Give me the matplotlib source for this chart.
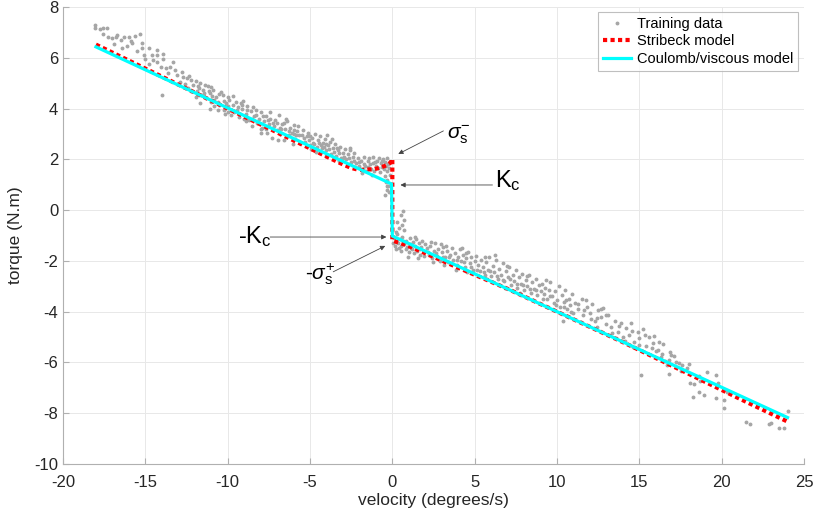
import matplotlib
matplotlib.use("Agg")
import matplotlib.pyplot as plt

plt.rcParams['font.family'] = ['Liberation Sans', 'DejaVu Sans']
plt.rcParams['mathtext.fontset'] = 'custom'
plt.rcParams['mathtext.rm'] = 'Liberation Sans'
plt.rcParams['mathtext.it'] = 'Liberation Sans:italic'
plt.rcParams['axes.unicode_minus'] = False

# ---- Training data (velocity, torque) ----
train_pts = [
    # left branch, x -18 .. -15
    (-18.05, 7.29), (-18.05, 7.19), (-17.75, 7.13), (-17.55, 7.16), (-17.3, 7.16), (-17.25, 6.83),
    (-17.05, 6.77), (-16.8, 6.80), (-16.7, 6.90), (-16.5, 6.70), (-16.3, 6.80), (-16.0, 6.80),
    (-15.9, 6.68), (-16.4, 6.37), (-15.8, 6.57), (-15.6, 6.87), (-15.35, 6.92), (-15.2, 6.57),
    (-15.2, 6.37), (-15.5, 6.27), (-17.6, 6.95), (-16.9, 6.55), (-16.1, 6.45), (-15.1, 6.10),
    # x -15 .. -12
    (-14.75, 6.40), (-15.0, 5.97), (-14.6, 6.10), (-14.55, 5.90), (-14.3, 6.30), (-14.3, 6.10),
    (-14.3, 5.85), (-13.95, 6.15), (-14.05, 5.65), (-13.75, 5.58), (-13.5, 5.65), (-13.35, 5.85),
    (-13.2, 5.50), (-14.0, 4.54), (-13.1, 5.33), (-12.7, 5.26), (-12.5, 5.20), (-12.35, 5.27),
    (-12.2, 5.13), (-12.1, 4.93), (-11.95, 5.07), (-13.6, 5.40), (-12.9, 5.05), (-12.6, 4.95),
    (-12.4, 4.80), (-12.8, 5.45), (-13.9, 5.95), (-14.8, 5.75), (-12.25, 4.70),
    # x -12 .. -9
    (-11.8, 4.87), (-11.7, 5.00), (-11.4, 4.93), (-11.2, 4.87), (-11.6, 4.54), (-11.67, 4.20),
    (-11.1, 4.60), (-10.9, 4.74), (-10.7, 4.47), (-10.6, 4.27), (-10.4, 4.67), (-10.3, 4.54),
    (-10.1, 4.20), (-9.9, 4.33), (-9.7, 4.14), (-9.5, 4.27), (-9.2, 4.20), (-9.1, 4.00),
    (-8.9, 3.80), (-9.8, 3.74), (-11.1, 4.00), (-10.6, 3.94), (-11.9, 4.45), (-11.5, 4.75),
    (-11.3, 4.40), (-11.0, 4.25), (-10.8, 4.10), (-10.5, 4.15), (-10.2, 3.95), (-10.0, 4.45),
    (-9.6, 3.85), (-9.4, 4.05), (-9.3, 3.65), (-11.85, 4.70), (-10.95, 4.50), (-10.15, 3.80),
    (-9.65, 4.50), (-9.05, 4.30),
    (-11.75, 4.80), (-11.45, 4.62), (-11.15, 4.70), (-10.85, 4.35), (-10.55, 4.58), (-10.25, 4.30),
    (-9.95, 4.12), (-9.45, 3.95), (-9.15, 4.15), (-11.0, 4.85), (-10.0, 3.85), (-9.0, 3.60),
    # x -9 .. -5
    (-8.8, 4.10), (-8.7, 3.55), (-8.6, 3.90), (-8.5, 3.30), (-8.4, 3.70), (-8.3, 3.95),
    (-8.2, 3.45), (-8.1, 3.60), (-8.0, 3.85), (-7.9, 3.25), (-7.8, 3.50), (-7.7, 3.70),
    (-7.6, 3.05), (-7.5, 3.40), (-7.4, 3.60), (-7.3, 2.85), (-7.2, 3.30), (-7.1, 3.55),
    (-7.0, 3.15), (-6.9, 3.75), (-6.8, 3.00), (-6.7, 3.40), (-6.6, 2.75), (-6.5, 3.20),
    (-6.4, 3.50), (-6.3, 2.95), (-6.2, 3.25), (-6.1, 3.05), (-6.0, 3.35), (-5.9, 2.80),
    (-5.8, 3.10), (-5.7, 3.30), (-5.6, 2.65), (-5.5, 2.95), (-5.4, 3.15), (-5.3, 2.70),
    (-5.2, 2.90), (-5.1, 3.05), (-5.0, 2.55), (-8.9, 3.50), (-7.95, 3.05), (-6.95, 2.75),
    (-6.05, 2.60), (-8.45, 4.05), (-7.45, 3.85), (-6.45, 3.60),
    (-8.85, 3.95), (-8.55, 3.58), (-8.25, 3.75), (-7.85, 3.70), (-7.55, 3.55), (-7.25, 3.45),
    (-6.85, 3.25), (-6.55, 3.45), (-6.25, 3.10), (-5.95, 3.15), (-5.65, 2.95), (-5.35, 2.85),
    (-5.05, 2.75), (-8.0, 3.20), (-7.0, 3.45), (-6.0, 3.00), (-7.65, 3.20), (-6.75, 3.20),
    (-5.85, 2.95),
    # x -5 .. -2
    (-4.9, 2.85), (-4.8, 2.65), (-4.7, 3.00), (-4.6, 2.50), (-4.5, 2.75), (-4.4, 2.90),
    (-4.3, 2.45), (-4.2, 2.65), (-4.1, 2.80), (-4.0, 2.35), (-3.9, 2.55), (-3.8, 2.70),
    (-3.7, 2.20), (-3.6, 2.45), (-3.5, 2.60), (-3.4, 2.15), (-3.3, 2.35), (-3.2, 2.50),
    (-3.1, 2.05), (-3.0, 2.25), (-2.9, 2.40), (-2.8, 2.00), (-2.7, 2.20), (-2.6, 2.35),
    (-2.5, 1.90), (-2.4, 2.10), (-2.3, 2.25), (-2.2, 1.85), (-2.1, 2.05), (-4.65, 2.30),
    (-3.95, 2.95), (-3.25, 1.95), (-2.55, 2.45), (-4.35, 2.55), (-3.65, 2.80),
    (-4.75, 2.60), (-4.45, 2.65), (-4.15, 2.50), (-3.85, 2.40), (-3.55, 2.30), (-3.25, 2.25),
    (-2.95, 2.10), (-2.65, 2.05), (-2.35, 1.95), (-2.05, 1.90), (-5.0, 2.90), (-4.0, 2.60),
    (-3.0, 2.05), (-4.95, 2.40), (-4.05, 2.15), (-3.35, 2.45), (-2.25, 1.70),
    # x -2 .. 0
    (-2.0, 1.75), (-1.9, 1.95), (-1.8, 1.60), (-1.75, 2.10), (-1.7, 1.80), (-1.6, 1.55),
    (-1.5, 1.95), (-1.45, 1.70), (-1.4, 2.05), (-1.3, 1.60), (-1.2, 1.85), (-1.15, 2.10),
    (-1.1, 1.55), (-1.0, 1.75), (-0.95, 1.95), (-0.9, 1.65), (-0.8, 2.05), (-0.75, 1.50),
    (-0.7, 1.85), (-0.6, 1.70), (-0.55, 2.00), (-0.5, 1.60), (-0.45, 1.90), (-0.4, 1.75),
    (-0.35, 1.55), (-0.3, 2.05), (-0.25, 1.80), (-0.2, 1.65), (-1.85, 1.45), (-1.25, 1.40),
    (-1.65, 1.75), (-1.35, 1.80), (-1.05, 1.90), (-0.65, 1.95), (-0.15, 1.90),
    # near zero velocity
    (-0.45, 1.35), (-0.4, 1.10), (-0.35, 0.95), (-0.3, 0.80), (-0.45, 0.60), (-0.3, 1.20),
    (-0.2, 0.70), (-0.15, 1.40), (-0.25, 0.93),
    (0.65, -0.04), (0.69, -0.38), (0.58, -0.58), (0.41, -0.70), (0.70, -0.78), (0.3, -0.45),
    (0.5, -0.20), (0.2, -0.85),
    # right branch, x 0 .. 2
    (0.1, -1.10), (0.15, -1.40), (0.2, -1.25), (0.25, -1.55), (0.3, -0.95), (0.35, -1.30),
    (0.4, -1.50), (0.45, -1.15), (0.5, -1.40), (0.55, -1.60), (0.6, -1.05), (0.7, -1.35),
    (0.8, -1.55), (0.85, -1.20), (0.9, -1.45), (1.0, -1.65), (1.05, -1.10), (1.1, -1.35),
    (1.2, -1.55), (1.25, -1.25), (1.3, -1.70), (1.4, -1.40), (1.45, -1.15), (1.5, -1.60),
    (1.6, -1.30), (1.7, -1.75), (1.75, -1.45), (1.8, -1.20), (1.9, -1.60), (1.95, -1.80),
    (2.0, -1.35), (0.05, -1.30), (0.95, -1.85), (1.55, -1.90),
    (0.65, -1.20), (1.15, -1.50), (1.65, -1.55), (1.35, -1.05),
    # x 2 .. 5
    (2.1, -1.50), (2.2, -1.75), (2.3, -1.40), (2.4, -1.90), (2.5, -1.60), (2.6, -1.30),
    (2.7, -1.80), (2.8, -1.55), (2.9, -2.00), (3.0, -1.65), (3.1, -1.45), (3.2, -1.85),
    (3.3, -1.60), (3.4, -2.05), (3.5, -1.75), (3.6, -1.50), (3.7, -1.95), (3.8, -1.70),
    (3.9, -2.15), (4.0, -1.85), (4.1, -1.55), (4.2, -2.00), (4.3, -1.75), (4.4, -2.25),
    (4.5, -1.90), (4.6, -1.65), (4.7, -2.10), (4.8, -1.85), (4.9, -2.35), (5.0, -2.00),
    (2.45, -2.05), (3.15, -2.15), (3.85, -2.35), (4.55, -2.45), (2.95, -1.35), (4.25, -1.50),
    (2.15, -1.65), (2.65, -1.70), (3.05, -1.85), (3.45, -1.85), (3.95, -1.95), (4.35, -2.05),
    (4.75, -2.25), (3.25, -1.40), (4.45, -1.70), (2.35, -1.25),
    # x 5 .. 9
    (5.1, -1.80), (5.2, -2.15), (5.3, -2.40), (5.4, -1.95), (5.5, -2.25), (5.6, -2.55),
    (5.7, -2.05), (5.8, -2.35), (5.9, -1.85), (6.0, -2.60), (6.1, -2.20), (6.2, -2.45),
    (6.3, -1.95), (6.4, -2.70), (6.5, -2.30), (6.6, -2.55), (6.7, -2.10), (6.8, -2.80),
    (6.9, -2.40), (7.0, -2.65), (7.1, -2.25), (7.2, -2.95), (7.3, -2.55), (7.4, -2.80),
    (7.5, -2.35), (7.6, -3.05), (7.7, -2.65), (7.8, -2.90), (7.9, -2.50), (8.0, -3.15),
    (8.1, -2.75), (8.2, -3.00), (8.3, -2.55), (8.4, -3.25), (8.5, -2.85), (8.6, -3.10),
    (8.7, -2.70), (8.8, -3.35), (8.9, -2.95), (9.0, -3.20), (5.75, -2.70), (6.85, -3.05),
    (7.75, -3.25), (8.55, -3.55), (6.25, -1.75),
    (5.15, -2.35), (5.55, -2.45), (5.95, -2.40), (6.35, -2.60), (6.75, -2.75), (7.15, -2.70),
    (7.55, -2.90), (7.95, -2.95), (8.35, -3.10), (8.75, -3.15), (5.65, -1.85), (6.95, -2.20),
    (8.15, -2.60),
    # x 9 .. 13
    (9.1, -2.90), (9.2, -3.30), (9.3, -3.05), (9.4, -3.50), (9.5, -3.15), (9.6, -2.85),
    (9.7, -3.40), (9.8, -3.65), (9.9, -3.20), (10.0, -3.55), (10.1, -3.00), (10.2, -3.80),
    (10.3, -3.35), (10.4, -3.60), (10.5, -3.15), (10.6, -3.90), (10.7, -3.50), (10.8, -3.75),
    (10.9, -3.30), (11.0, -4.05), (11.1, -3.65), (11.3, -3.90), (11.5, -3.50), (11.6, -4.15),
    (11.8, -3.80), (12.0, -4.05), (12.1, -3.70), (12.3, -4.35), (12.5, -3.95), (12.7, -4.20),
    (12.8, -3.85), (13.0, -4.50), (10.35, -4.35), (11.45, -4.40), (12.4, -4.60),
    (9.15, -3.50), (9.55, -3.40), (9.95, -3.75), (10.45, -3.80), (10.85, -4.00), (11.25, -3.70),
    (11.65, -3.95), (12.05, -4.30), (12.45, -4.25), (12.95, -4.15), (9.35, -2.75), (10.55, -3.55),
    (11.75, -3.55), (12.65, -3.90),
    # x 13 .. 17
    (13.1, -4.15), (13.3, -4.60), (13.5, -4.35), (13.7, -4.80), (13.9, -4.45), (14.0, -5.00),
    (14.2, -4.65), (14.4, -4.90), (14.5, -4.45), (14.7, -5.20), (14.9, -4.80), (15.0, -5.05),
    (15.1, -6.49), (15.2, -4.70), (15.4, -5.35), (15.6, -5.00), (15.8, -5.25), (15.9, -4.95),
    (16.0, -5.55), (16.2, -5.20), (16.3, -5.80), (16.45, -5.27), (16.4, -5.65), (16.85, -5.57),
    (16.9, -5.70), (16.8, -5.90), (16.7, -6.10), (16.8, -6.46), (13.6, -5.05), (14.6, -5.40),
    (13.35, -4.85), (13.75, -4.55), (14.15, -5.15), (14.55, -4.75), (14.95, -5.30), (15.35, -4.90),
    (15.75, -5.45), (16.15, -5.50), (16.55, -5.95),
    # x 17 .. 24
    (17.2, -6.00), (17.4, -6.03), (17.6, -6.10), (18.0, -6.06), (17.9, -6.22), (18.07, -6.82),
    (18.3, -6.84), (18.25, -7.37), (18.63, -6.53), (18.7, -6.75), (18.63, -7.15), (18.9, -7.28),
    (19.13, -6.39), (19.63, -6.49), (19.8, -6.82), (19.63, -7.40), (20.14, -7.47), (20.14, -7.80),
    (20.3, -7.15), (21.5, -8.33), (21.7, -8.43), (22.86, -8.42), (23.0, -8.37), (23.48, -8.60),
    (23.8, -8.60), (24.05, -7.90), (17.1, -5.75), (17.5, -6.35),
]
train_x = [p[0] for p in train_pts]
train_y = [p[1] for p in train_pts]

# ---- Stribeck model ----
strib_x = [-18, -14, -10, -7, -5, -4, -3, -2.5, -2, -1.5, -1.1, -0.7, -0.3, -0.1, 0.0,
           0.0, 0.5, 1.0, 2.0, 4.0, 7.0, 10.0, 14.0, 18.0, 21.0, 24.0]
strib_y = [6.52, 5.26, 4.00, 3.06, 2.43, 2.11, 1.80, 1.66, 1.58, 1.60, 1.61, 1.68, 1.78, 1.88, 2.02,
           -1.20, -1.30, -1.42, -1.70, -2.27, -3.10, -4.00, -5.20, -6.45, -7.40, -8.33]

# ---- Coulomb/viscous model ----
coul_x = [-18, -0.05, 0.0, 24]
coul_y = [6.43, 1.03, -1.02, -8.17]

xticks = [-20, -15, -10, -5, 0, 5, 10, 15, 20, 25]
yticks = [-10, -8, -6, -4, -2, 0, 2, 4, 6, 8]

fig = plt.figure(figsize=(8.15, 5.18), dpi=100)
ax = fig.add_axes([63/815, 54/518, (804-63)/815, (464-7)/518])

ax.plot(train_x, train_y, '.', color='#a6a6a6', markersize=3.6, label='Training data', zorder=2)
ax.plot(strib_x, strib_y, color='red', linewidth=3.0, linestyle=(0, (1, 0.8)),
        dash_capstyle='butt', label='Stribeck model', zorder=3)
ax.plot(coul_x, coul_y, color='cyan', linewidth=2.3, label='Coulomb/viscous model', zorder=4)

ax.set_xlim(-20, 25)
ax.set_ylim(-10, 8)
ax.set_xticks(xticks)
ax.set_yticks(yticks)
ax.grid(True, color='#e8e8e8', linewidth=0.7)
ax.set_axisbelow(True)
for s in ['top', 'right']:
    ax.spines[s].set_visible(False)
for s in ['left', 'bottom']:
    ax.spines[s].set_color('#b0b0b0')
    ax.spines[s].set_linewidth(0.8)
ax.tick_params(direction='in', length=4, color='#b0b0b0', labelsize=12, labelcolor='#262626')
ax.tick_params(axis='x', pad=8)
ax.set_xlabel('velocity (degrees/s)', fontsize=12.5, color='#262626', labelpad=2)
ax.set_ylabel('torque (N.m)', fontsize=12.5, color='#262626', labelpad=8)

leg = ax.legend(loc='upper right', bbox_to_anchor=(0.992, 0.99), fontsize=10.5, frameon=True,
                fancybox=False, handlelength=1.9, handletextpad=0.4, borderpad=0.35,
                labelspacing=0.25, borderaxespad=0.0)
leg.get_frame().set_edgecolor('#b0b0b0')
leg.get_frame().set_linewidth(0.8)

arrow_kw = dict(arrowstyle='-|>', color='#444444', lw=0.6, mutation_scale=7, shrinkA=0, shrinkB=0)
ax.annotate('', xy=(0.36, 2.21), xytext=(3.1, 3.12), arrowprops=arrow_kw)
ax.annotate('', xy=(0.49, 0.99), xytext=(6.08, 0.99), arrowprops=arrow_kw)
ax.annotate('', xy=(-0.36, -1.06), xytext=(-7.42, -1.06), arrowprops=arrow_kw)
ax.annotate('', xy=(-0.43, -1.41), xytext=(-3.59, -2.43), arrowprops=arrow_kw)

ax.text(3.34, 2.84, r'$\sigma_{\mathrm{s}}^{\mathrm{-}}$', fontsize=15, ha='left', va='baseline')
ax.text(6.26, 0.91, r'$\mathrm{K}_{\mathrm{c}}$', fontsize=17, ha='left', va='baseline')
ax.text(-9.36, -1.29, r'-$\mathrm{K}_{\mathrm{c}}$', fontsize=17, ha='left', va='baseline')
ax.text(-5.3, -2.75, r'-$\sigma_{\mathrm{s}}^{\mathrm{+}}$', fontsize=15, ha='left', va='baseline')

fig.savefig('out.png', dpi=100)
